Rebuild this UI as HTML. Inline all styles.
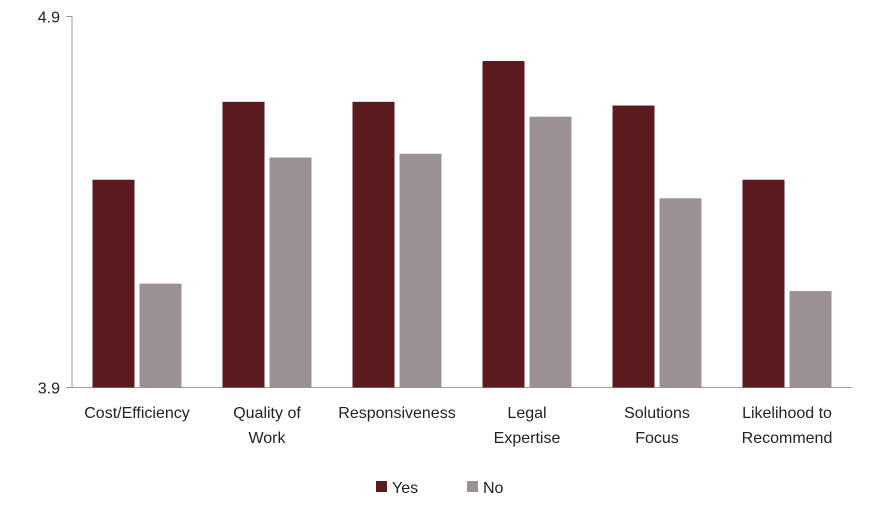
<!DOCTYPE html>
<html><head><meta charset="utf-8"><style>
body{margin:0;background:#fff;}
svg text{font-family:"Liberation Sans",sans-serif;fill:#222;}
</style></head><body>
<svg id="chart" width="874" height="511"></svg>
<script>
const categories=[["Cost/Efficiency"],["Quality of","Work"],["Responsiveness"],["Legal","Expertise"],["Solutions","Focus"],["Likelihood to","Recommend"]];
const yesValues=[4.46,4.67,4.67,4.78,4.66,4.46];
const noValues=[4.18,4.52,4.53,4.63,4.41,4.16];
const yTicks=[3.9,4.9];
const seriesNames=["Yes","No"];
const NS="http://www.w3.org/2000/svg";
const svg=document.getElementById('chart');
const x0=72,x1=852,y0=387.5,y1=16.5,ymin=3.9,ymax=4.9;
const band=(x1-x0)/categories.length;
function yScale(v){return y0-(v-ymin)/(ymax-ymin)*(y0-y1);}
function xCenter(i){return x0+band*(i+0.5);}
function mk(tag,attrs,parent){const e=document.createElementNS(NS,tag);for(const k in attrs)e.setAttribute(k,attrs[k]);(parent||svg).appendChild(e);return e;}
// axes
let ax=mk('line',{x1:x0,y1:y1,x2:x0,y2:y0,stroke:'#999','stroke-width':1});


let bx=mk('line',{x1:x0-6,y1:y0,x2:x1,y2:y0,stroke:'#999','stroke-width':1});


yTicks.forEach(t=>{
  const y=yScale(t);
  const tk=mk('line',{x1:x0-6,y1:y,x2:x0,y2:y,stroke:'#999'});
  
  
  const tl=mk('text',{x:x0-12,y:y+6,'text-anchor':'end','font-size':16});
  tl.textContent=t.toFixed(1);
  
  
});
const colors=['#5a1a1e','#9b9194'];
const bw=42,gap=5;
categories.forEach((c,i)=>{
  const cx=xCenter(i);
  [yesValues[i],noValues[i]].forEach((v,s)=>{
    const x=s===0?cx-gap/2-bw:cx+gap/2;
    const r=mk('rect',{x:x,y:yScale(v),width:bw,height:y0-yScale(v),fill:colors[s]});
    
    
  });
  c.forEach((line,j)=>{
    const t=mk('text',{x:cx,y:418+j*25,'text-anchor':'middle','font-size':16});
    t.textContent=line;
    
    
  });
});
// legend
[[376,392],[467,483]].forEach((p,s)=>{
  const r=mk('rect',{x:p[0],y:481,width:11,height:11,fill:colors[s]});
  
  
  const t=mk('text',{x:p[1],y:493,'font-size':16});
  t.textContent=seriesNames[s];
  
  
});
</script>
</body></html>
